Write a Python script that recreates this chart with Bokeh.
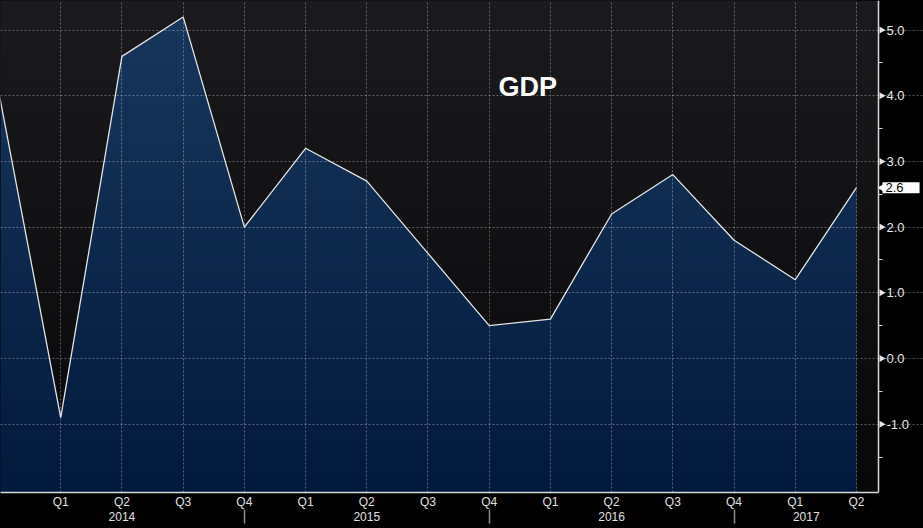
import numpy as np
from bokeh.plotting import figure
from bokeh.models import (Range1d, FixedTicker, LinearAxis, CustomJSTickFormatter,
                          NumeralTickFormatter, Label, GlobalInlineStyleSheet)
from bokeh.embed import file_html
from bokeh.resources import INLINE

# ---------------- data ----------------
quarters = ["Q4", "Q1", "Q2", "Q3", "Q4", "Q1", "Q2", "Q3", "Q4",
            "Q1", "Q2", "Q3", "Q4", "Q1", "Q2"]
years = ["2014", "2015", "2016", "2017"]
gdp = [4.0, -0.9, 4.6, 5.2, 2.0, 3.2, 2.7, 1.6, 0.5, 0.6, 2.2, 2.8, 1.8, 1.2, 2.6]
y_ticks = [-1, 0, 1, 2, 3, 4, 5]
title_text = "GDP"

# ---------------- layout / style ----------------
W, H = 923, 528
X0 = 0.016                 # left edge of the frame (data units)
X_AXIS = 14.36             # where the value axis sits
PX = (X_AXIS - X0) / 878   # data units per pixel
X1 = X0 + W * PX           # frame runs over the full width
Y0, Y1 = -2.04, 5.45
TITLE_X, TITLE_Y = 8.63, 4.13
FONT = "Liberation Sans"
BG = (27, 27, 31)
BG_HEX = "#%02x%02x%02x" % BG
BLUE_TOP = np.array([25, 56, 94], dtype=float)
BLUE_BOTTOM = np.array([2, 26, 60], dtype=float)
ALPHA_BOTTOM = 0.7

idx = list(range(len(gdp)))

p = figure(width=W, height=H, x_range=Range1d(X0, X1), y_range=Range1d(Y0, Y1),
           output_backend="svg", toolbar_location=None, y_axis_location="right",
           min_border_left=0, min_border_top=0, min_border_right=0, min_border_bottom=36,
           background_fill_color="black", border_fill_color="black",
           outline_line_color=None)
p.stylesheets = [GlobalInlineStyleSheet(css="body{background:#000;}")]

# gradient helpers (decoration)
N = 256
t = 1 - np.arange(N) / (N - 1)          # 0 at top, 1 at bottom (row 0 = bottom)
alpha = ALPHA_BOTTOM * t
blue = np.outer(1 - t, BLUE_TOP) + np.outer(t, BLUE_BOTTOM)
base = np.clip(blue / (1 - alpha)[:, None], 0, 255)
img_blue = np.zeros((N, 1, 4), dtype=np.uint8)
img_blue[:, 0, :3] = base.astype(np.uint8)
img_blue[:, 0, 3] = 255
img_blue = img_blue.view(np.uint32).reshape(N, 1)
shade = np.zeros((N, 1, 4), dtype=np.uint8)
shade[:, 0, 3] = (alpha * 255).astype(np.uint8)
shade = shade.view(np.uint32).reshape(N, 1)

# plot panel background, blue area under the series, background above it
p.quad(left=X0, right=X_AXIS, bottom=Y0, top=Y1, fill_color=BG_HEX, line_color=None)
p.image_rgba(image=[img_blue], x=X0, y=Y0, dw=idx[-1] - X0, dh=Y1 - Y0)
p.varea(x=idx, y1=gdp, y2=Y1, fill_color=BG_HEX)
p.image_rgba(image=[shade], x=X0, y=Y0, dw=X_AXIS - X0, dh=Y1 - Y0)
p.line(idx, gdp, line_color="#e4e4e4", line_width=1.3)

# grid
p.xgrid.ticker = FixedTicker(ticks=idx)
p.ygrid.ticker = FixedTicker(ticks=y_ticks)
p.ygrid.bounds = (X0, X_AXIS)
for g in (p.xgrid[0], p.ygrid[0]):
    g.grid_line_color = "white"
    g.grid_line_alpha = 0.33
    g.grid_line_dash = "2 2"
    g.level = "guide"

# quarter axis (with year separators as minor ticks)
q4_pos = [i for i, q in enumerate(quarters) if q == "Q4"]
seps = [i for i in q4_pos if i > X0]
xa = p.xaxis[0]
xa.bounds = (X0, X_AXIS)
xa.ticker = FixedTicker(ticks=idx, minor_ticks=seps)
xa.formatter = CustomJSTickFormatter(args=dict(labels=quarters),
                                     code="return labels[Math.round(tick)] || ''")
xa.major_tick_out = 0
xa.major_tick_in = 0
xa.minor_tick_out = 31
xa.minor_tick_in = -17
xa.minor_tick_line_color = "#8c8c8c"
xa.minor_tick_line_width = 1.5
xa.axis_line_color = "#d9d9d9"
xa.axis_line_width = 1.5
xa.major_label_text_color = "#e0e0e0"
xa.major_label_text_font = FONT
xa.major_label_text_font_size = "12px"
xa.major_label_standoff = 2 - 31

# year axis
bounds = q4_pos + [X_AXIS]
year_pos = [(a + b) / 2 for a, b in zip(bounds[:-1], bounds[1:])]
ya = LinearAxis(ticker=FixedTicker(ticks=year_pos, minor_ticks=[]),
                formatter=CustomJSTickFormatter(args=dict(labels=years), code="return labels[index]"),
                axis_line_color=None, major_tick_out=0, major_tick_in=0,
                minor_tick_out=0, minor_tick_in=0,
                major_label_text_color="#e0e0e0", major_label_text_font=FONT,
                major_label_text_font_size="12px", major_label_standoff=0)
p.add_layout(ya, "below")

# value axis (drawn at the right edge of the plot panel)
ra = p.yaxis[0]
ra.fixed_location = X_AXIS
ra.ticker = FixedTicker(ticks=y_ticks, minor_ticks=[v - 0.5 for v in y_ticks])
ra.formatter = NumeralTickFormatter(format="0.0")
ra.axis_line_color = "#d9d9d9"
ra.axis_line_width = 1.5
ra.major_tick_out = 0
ra.major_tick_in = 0
ra.minor_tick_out = 4
ra.minor_tick_in = 0
ra.minor_tick_line_color = "#d9d9d9"
ra.major_label_text_color = "#e8e8e8"
ra.major_label_text_font = FONT
ra.major_label_text_font_size = "13px"
ra.major_label_standoff = 4

# tick arrow-heads on the value axis
p.scatter(x=[X_AXIS + 3 * PX] * len(y_ticks), y=y_ticks, marker="triangle",
          angle=-np.pi / 2, size=7, fill_color="#e6e6e6", line_color=None)

# last value tag
p.scatter(x=[X_AXIS + 4 * PX], y=[gdp[-1]], marker="triangle", angle=np.pi / 2,
          size=9, fill_color="white", line_color=None)
p.add_layout(Label(x=X_AXIS, y=gdp[-1], x_offset=4, text=f"{gdp[-1]:.1f}",
                   text_color="black", text_font=FONT, text_font_size="13px",
                   text_baseline="middle", text_align="left",
                   background_fill_color="white",
                   padding=dict(left=3, right=16, top=1, bottom=1)))

# title
p.add_layout(Label(x=TITLE_X, y=TITLE_Y, text=title_text, text_color="white",
                   text_font=FONT, text_font_style="bold", text_font_size="27px",
                   text_align="center", text_baseline="middle"))

open("out.html", "w").write(file_html(p, INLINE))
